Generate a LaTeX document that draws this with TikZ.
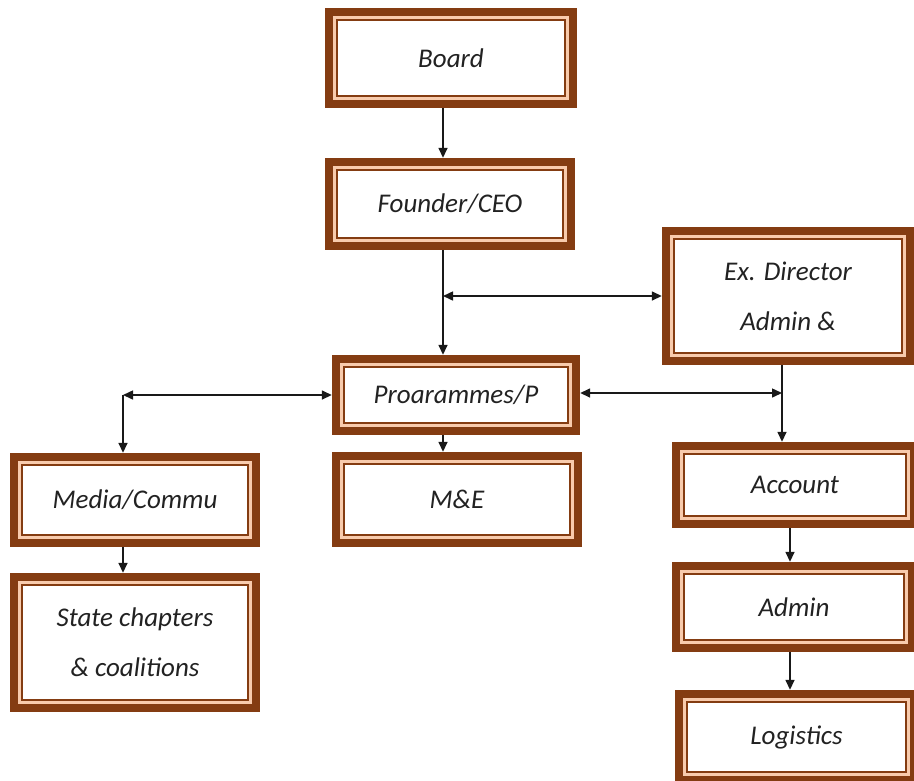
\documentclass[tikz,border=0pt]{standalone}
\usepackage{fontspec}
\setmainfont{Carlito}
\usetikzlibrary{arrows.meta}
\definecolor{brownc}{RGB}{132,60,18}
\definecolor{peach}{RGB}{248,203,173}
\definecolor{inkc}{RGB}{34,34,34}
\tikzset{
  orgbox/.style={rectangle, fill=brownc, inner sep=0pt, align=center,
    font=\fontsize{27}{50}\selectfont\itshape, text=inkc,
    path picture={
      \fill[peach] ([shift={(8pt,-8pt)}]path picture bounding box.north west) rectangle ([shift={(-8pt,8pt)}]path picture bounding box.south east);
      \fill[brownc] ([shift={(11pt,-11pt)}]path picture bounding box.north west) rectangle ([shift={(-11pt,11pt)}]path picture bounding box.south east);
      \fill[white] ([shift={(13pt,-13pt)}]path picture bounding box.north west) rectangle ([shift={(-13pt,13pt)}]path picture bounding box.south east);
    }},
  conn/.style={line width=1.5pt, draw=black!90},
  tipc/.tip={Triangle[length=10pt,width=9pt]}
}
\begin{document}
\begin{tikzpicture}[x=1pt,y=-1pt]
\clip (0,0) rectangle (914,780);
\fill[white] (0,0) rectangle (914,780);
% boxes
\node[orgbox, minimum width=252pt, minimum height=100pt] (board) at (451,58) {Board};
\node[orgbox, minimum width=250pt, minimum height=92pt] (ceo) at (450,204) {Founder/CEO};
\node[orgbox, minimum width=252pt, minimum height=138pt] (exdir) at (788,296) {Ex. Director\\Admin \&};
\node[orgbox, minimum width=248pt, minimum height=80pt] (prog) at (456,395) {Proarammes/P};
\node[orgbox, minimum width=250pt, minimum height=95pt] (me) at (457,499.5) {M\&E};
\node[orgbox, minimum width=250pt, minimum height=94pt] (media) at (135,500) {Media/Commu};
\node[orgbox, minimum width=250pt, minimum height=139pt] (state) at (135,642.5) {State chapters\\\& coalitions};
\node[orgbox, minimum width=246pt, minimum height=86pt] (account) at (795,485) {Account};
\node[orgbox, minimum width=244pt, minimum height=90pt] (admin) at (794,607) {Admin};
\node[orgbox, minimum width=243pt, minimum height=94pt] (logistics) at (796.5,737) {Logistics};
% junction coordinates
\coordinate (spine) at (443,0);
\coordinate (j1) at (443,296);
\coordinate (rspine) at (782,0);
\coordinate (j2) at (782,393);
\coordinate (j3) at (123,395);
\coordinate (aspine) at (790,0);
% connectors
\draw[conn,-tipc] (board.south -| spine) -- (ceo.north -| spine);
\draw[conn,-tipc] (ceo.south -| spine) -- (prog.north -| spine);
\draw[conn,tipc-tipc] (j1) -- (exdir.west |- j1);
\draw[conn,-tipc] (exdir.south -| rspine) -- (account.north -| rspine);
\draw[conn,tipc-tipc] (prog.east |- j2) -- (j2);
\draw[conn,tipc-tipc] (prog.west |- j3) -- (j3);
\draw[conn,-tipc] (j3) -- (media.north -| j3);
\draw[conn,-tipc] (prog.south -| spine) -- (me.north -| spine);
\draw[conn,-tipc] (media.south -| j3) -- (state.north -| j3);
\draw[conn,-tipc] (account.south -| aspine) -- (admin.north -| aspine);
\draw[conn,-tipc] (admin.south -| aspine) -- (logistics.north -| aspine);
\end{tikzpicture}
\end{document}
